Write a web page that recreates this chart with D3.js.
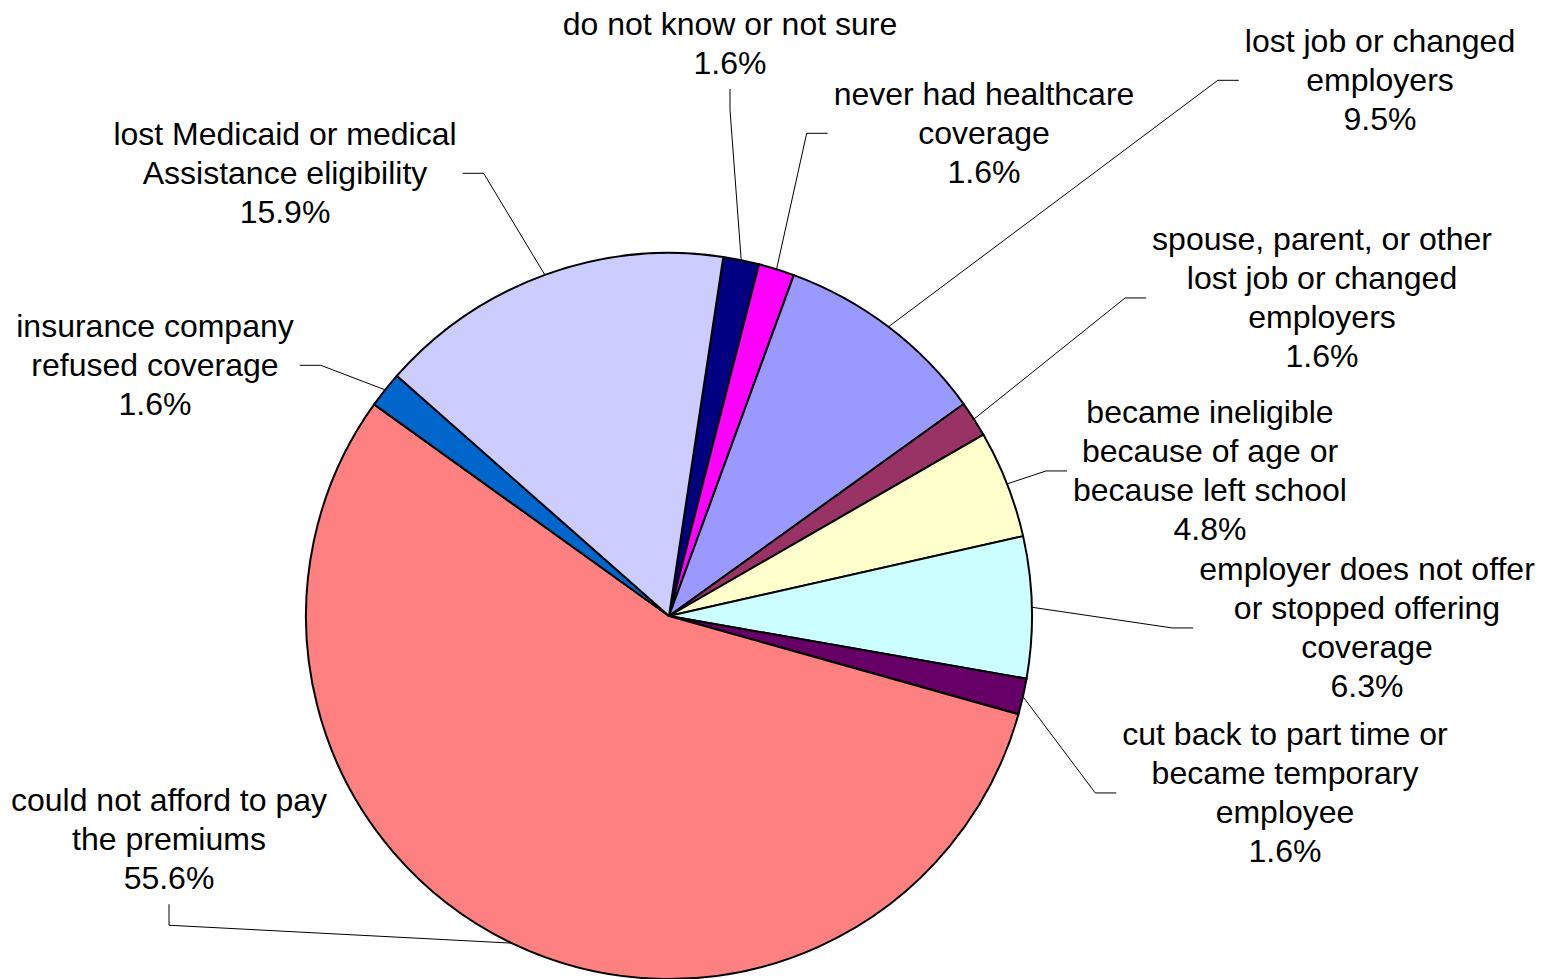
<!DOCTYPE html>
<html>
<head>
<meta charset="utf-8">
<script src="https://cdn.jsdelivr.net/npm/d3@7"></script>
<style>
  html, body { margin: 0; padding: 0; background: #fff; }
  svg { display: block; }
  text { font-family: "Liberation Sans", Arial, sans-serif; fill: #000; }
</style>
</head>
<body>
<svg id="chart" width="1558" height="979"></svg>
<script>
// ---- data ----
const categories = [
  "do not know or not sure",
  "never had healthcare coverage",
  "lost job or changed employers",
  "spouse, parent, or other lost job or changed employers",
  "became ineligible because of age or because left school",
  "employer does not offer or stopped offering coverage",
  "cut back to part time or became temporary employee",
  "could not afford to pay the premiums",
  "insurance company refused coverage",
  "lost Medicaid or medical Assistance eligibility"
];
const values = [1.6, 1.6, 9.5, 1.6, 4.8, 6.3, 1.6, 55.6, 1.6, 15.9];
const labelLines = [
  ["do not know or not sure"],
  ["never had healthcare", "coverage"],
  ["lost job or changed", "employers"],
  ["spouse, parent, or other", "lost job or changed", "employers"],
  ["became ineligible", "because of age or", "because left school"],
  ["employer does not offer", "or stopped offering", "coverage"],
  ["cut back to part time or", "became temporary", "employee"],
  ["could not afford to pay", "the premiums"],
  ["insurance company", "refused coverage"],
  ["lost Medicaid or medical", "Assistance eligibility"]
];
const colors = ["#000080", "#FF00FF", "#9999FF", "#993366", "#FFFFCC",
                "#CCFFFF", "#660066", "#FF8080", "#0066CC", "#CCCCFF"];

// ---- layout (label placement, not data) ----
const labelCX   = [730, 984, 1380, 1322, 1210, 1367, 1285, 169, 155, 285];
const labelTopY = [24, 94, 41, 239, 412, 569, 734, 800, 326, 134];
const labelSide = ["bottom", "left", "left", "left", "left", "left", "left", "bottom", "right", "right"];

const cx = 669, cy = 616, R = 363;
const fontSize = 32, lineH = 39.3;
const startA = 8.6 * Math.PI / 180;

const svg = d3.select("#chart");
const fmt = v => d3.format(".1f")(v) + "%";

const pie = d3.pie().sort(null).value(d => d.value)
  .startAngle(startA).endAngle(startA + 2 * Math.PI);
const data = categories.map((c, i) => ({ name: c, value: values[i], i }));
const arcs = pie(data);

const arc = d3.arc().innerRadius(0).outerRadius(R);
const edge = d3.arc().innerRadius(R).outerRadius(R);

const g = svg.append("g").attr("transform", `translate(${cx},${cy})`);
g.selectAll("path.slice").data(arcs).join("path")
  .attr("class", "slice")
  .attr("d", arc)
  .attr("fill", d => colors[d.data.i])
  .attr("stroke", "#000")
  .attr("stroke-width", 2)
  .attr("stroke-linejoin", "round");

// labels
const labels = svg.append("g");
arcs.forEach(d => {
  const i = d.data.i;
  const lines = labelLines[i].concat([fmt(values[i])]);
  const t = labels.append("text")
    .attr("text-anchor", "middle")
    .style("font-size", fontSize + "px");
  let maxW = 0;
  lines.forEach((ln, k) => {
    const ts = t.append("tspan")
      .attr("x", labelCX[i])
      .attr("y", labelTopY[i] + k * lineH + 10.5)
      .text(ln);
    maxW = Math.max(maxW, ts.node().getComputedTextLength());
  });
  const n = lines.length;
  const midY = labelTopY[i] + (n - 1) * lineH / 2;
  const botY = labelTopY[i] + (n - 1) * lineH + lineH / 2;
  const gap = 6, seg = 21;
  let p1, p2;
  const side = labelSide[i];
  if (side === "left") {
    const x = labelCX[i] - maxW / 2 - gap;
    p1 = [x, midY]; p2 = [x - seg, midY];
  } else if (side === "right") {
    const x = labelCX[i] + maxW / 2 + gap;
    p1 = [x, midY]; p2 = [x + seg, midY];
  } else {
    const y = botY + gap;
    p1 = [labelCX[i], y]; p2 = [labelCX[i], y + seg];
  }
  const e = edge.centroid(d);
  const p3 = [cx + e[0], cy + e[1]];
  labels.append("polyline")
    .attr("points", [p1, p2, p3].map(p => p.join(",")).join(" "))
    .attr("fill", "none")
    .attr("stroke", "#000")
    .attr("stroke-width", 1);
});
</script>
</body>
</html>
